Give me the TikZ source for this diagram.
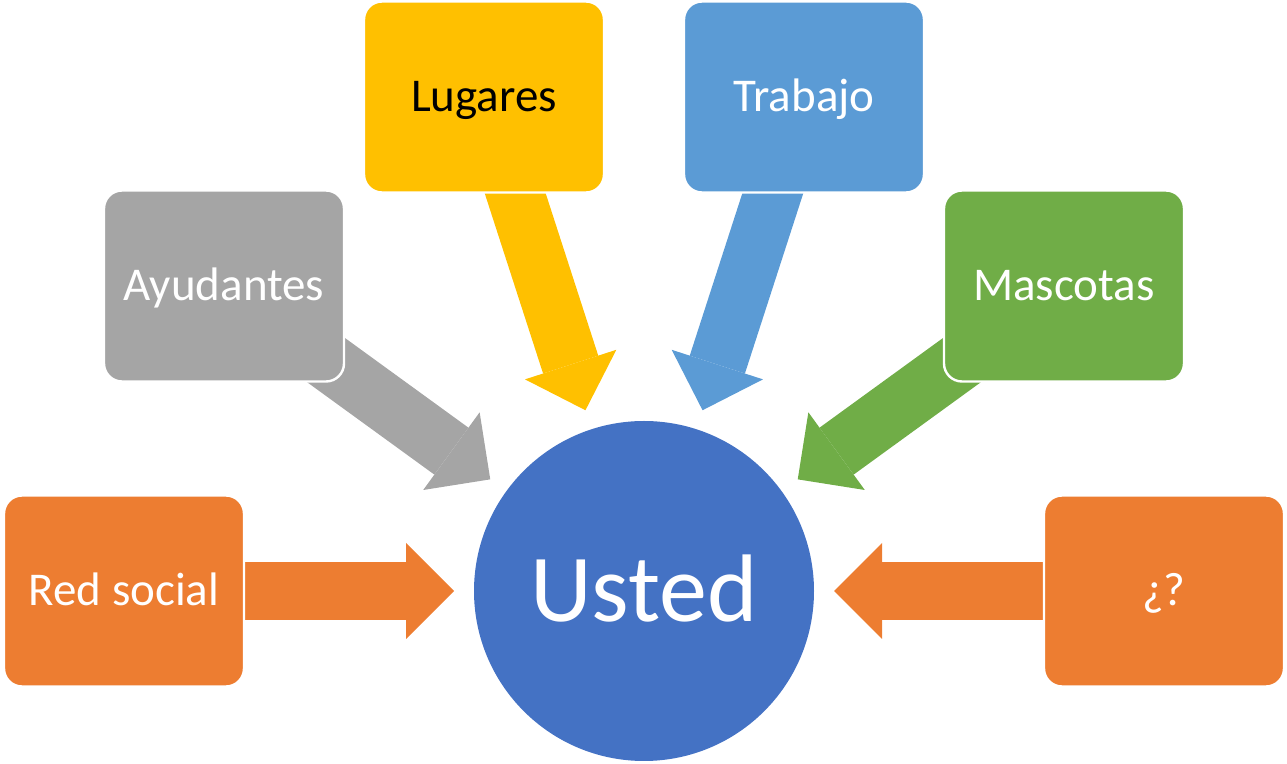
\documentclass[tikz,border=0pt]{standalone}
\usepackage{fontspec}
\setmainfont{Carlito}
\usepackage{tikz}
\usetikzlibrary{arrows.meta}
\definecolor{naranja}{HTML}{ED7D31}
\definecolor{gris}{HTML}{A5A5A5}
\definecolor{oro}{HTML}{FFC000}
\definecolor{celeste}{HTML}{5B9BD5}
\definecolor{verde}{HTML}{70AD47}
\definecolor{azul}{HTML}{4472C4}
\pgfdeclarelayer{bg}
\pgfsetlayers{bg,main}

\begin{document}
\begin{tikzpicture}[x=0.5pt,y=-0.5pt]
\tikzstyle{caja}=[rectangle,rounded corners=9pt,minimum width=120pt,minimum height=95.5pt,draw=white,line width=1.2pt,text=white,font=\fontsize{23.5}{28}\selectfont,text height=14.8pt,text depth=0pt]
\tikzstyle{flecha}=[line width=29pt,-{Triangle[length=24pt,width=48pt,line width=0pt]}]
\useasboundingbox (0,0) rectangle (1287,764);
\node[circle,fill=azul,minimum size=170pt,inner sep=0pt,outer sep=10pt,text=white,font=\fontsize{48}{56}\selectfont,text height=30.5pt,text depth=0pt] (u) at (644,591) {Usted};
\node[caja,fill=naranja] (rs) at (124,591) {Red social};
\node[caja,fill=gris] (ay) at (224,286) {Ayudantes};
\node[caja,fill=oro,text=black] (lu) at (484,97) {Lugares};
\node[caja,fill=celeste] (tr) at (804,97) {Trabajo};
\node[caja,fill=verde] (ma) at (1064,286) {Mascotas};
\node[caja,fill=naranja] (qq) at (1164,591) {¿?};
\begin{pgfonlayer}{bg}
\draw[flecha,naranja] (rs.center) -- (u);
\draw[flecha,gris] (ay.center) -- (u);
\draw[flecha,oro] (lu.center) -- (u);
\draw[flecha,celeste] (tr.center) -- (u);
\draw[flecha,verde] (ma.center) -- (u);
\draw[flecha,naranja] (qq.center) -- (u);
\end{pgfonlayer}
\end{tikzpicture}
\end{document}
